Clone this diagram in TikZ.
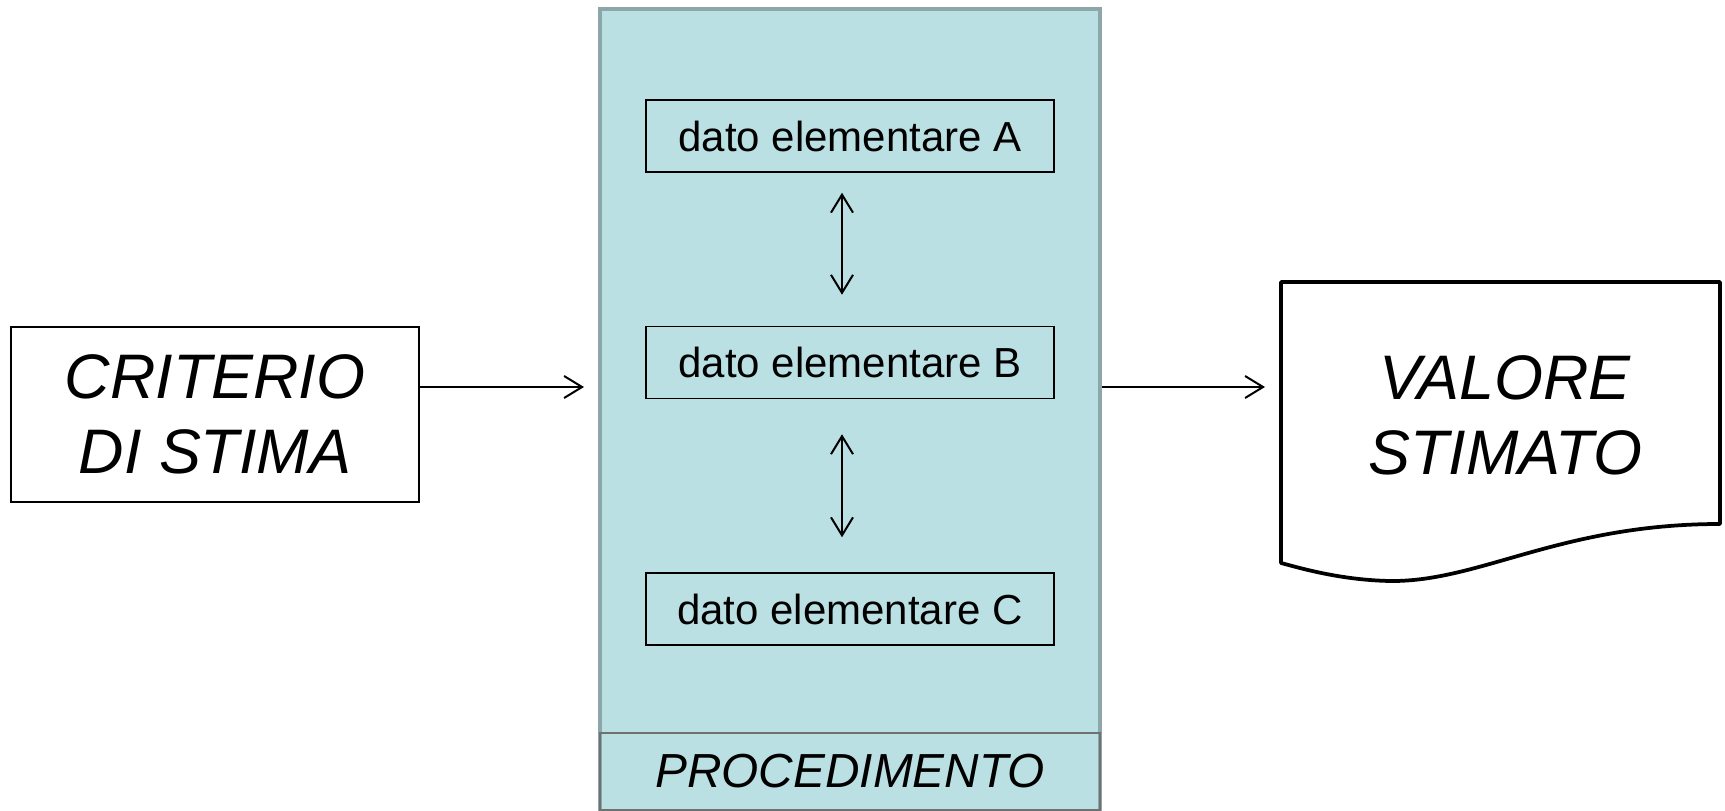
\documentclass[tikz,border=0pt]{standalone}
\usepackage{fontspec}
\setmainfont{Liberation Sans}
\usetikzlibrary{arrows.meta}

\definecolor{panelfill}{HTML}{BBE0E3}
\definecolor{paneledge}{HTML}{8CA6A9}
\definecolor{procedge}{HTML}{707070}

\tikzset{
	datobox/.style={draw=black, line width=0.3mm, minimum width=81.6mm, minimum height=14.4mm, inner sep=0pt, font=\fontsize{23.9}{28}\selectfont},
	bigtxt/.style={align=center, inner sep=0pt, font=\fontsize{35.8}{42.5}\selectfont\itshape},
	arr/.style={-{Straight Barb[length=3.6mm,width=4.4mm]}, line width=0.4mm},
	darr/.style={{Straight Barb[length=3.6mm,width=4.4mm]}-{Straight Barb[length=3.6mm,width=4.4mm]}, line width=0.4mm}
}

\begin{document}
\begin{tikzpicture}[x=0.2mm,y=-0.2mm]
	\useasboundingbox (0,0) rectangle (1725,811);

	% panel
	\node[draw=paneledge, fill=panelfill, line width=0.8mm, minimum width=100mm, minimum height=161.2mm, inner sep=0pt] (proc) at (850,412) {};
	\node[draw=procedge, line width=0.4mm, minimum width=100mm, minimum height=15.4mm, inner sep=0pt, font=\fontsize{27.2}{32}\selectfont\itshape] (proclab) at (850,771.5) {PROCEDIMENTO};

	% dati
	\node[datobox] (datoA) at (850,136) {dato elementare A};
	\node[datobox] (datoB) at (850,362.5) {dato elementare B};
	\node[datobox] (datoC) at (850,609) {dato elementare C};
	% |
	\draw[darr, shorten <=4mm, shorten >=6.2mm] ([xshift=-1.6mm]datoA.south) -- ([xshift=-1.6mm]datoB.north);
	\draw[darr, shorten <=7mm, shorten >=7mm] ([xshift=-1.6mm]datoB.south) -- ([xshift=-1.6mm]datoC.north);

	% criterio
	\node[draw=black, line width=0.3mm, minimum width=81.6mm, minimum height=35mm, bigtxt] (crit) at (215,414.5) {CRITERIO\\DI STIMA};

	% valore
	\draw[line width=0.75mm, line join=round] (1281,282) -- (1720,282) -- (1720,524)
		.. controls (1560,524) and (1480,582) .. (1390,581)
		.. controls (1340,580) and (1300,568) .. (1281,563) -- cycle;
	\node[bigtxt] (val) at (1505,415) {VALORE\\STIMATO};

	% ->
	\coordinate (procin) at (584,387);
	\coordinate (valin) at (1265,387);
	\draw[arr] (crit.east |- procin) -- (procin);
	\draw[arr] (proc.east |- valin) -- (valin);
\end{tikzpicture}
\end{document}
